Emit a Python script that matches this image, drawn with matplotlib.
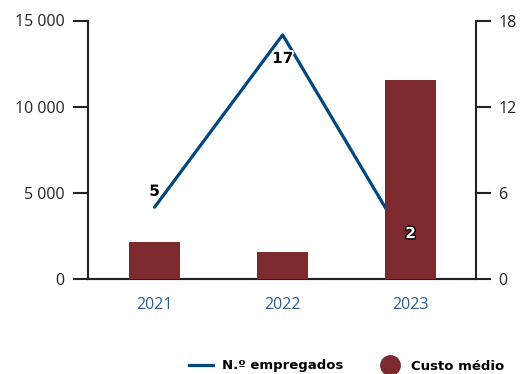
import matplotlib
matplotlib.use('Agg')
import matplotlib.pyplot as plt
import matplotlib.patheffects as pe
from matplotlib.lines import Line2D
from matplotlib.ticker import FuncFormatter

# Data
years = ['2021', '2022', '2023']
custo_medio = [2150, 1570, 11550]
n_empregados = [5, 17, 2]

left_ticks = [0, 5000, 10000, 15000]
right_ticks = [0, 6, 12, 18]

bar_color = '#7d2a2f'
line_color = '#00477f'
axis_color = '#222222'
year_color = '#2a5d94'

plt.rcParams['font.family'] = ['Open Sans', 'DejaVu Sans']

fig = plt.figure(figsize=(5.22, 3.74), dpi=100)
ax = fig.add_axes([88 / 522, 1 - 279 / 374, 388 / 522, 258.5 / 374])
ax2 = ax.twinx()

# bars sit above the line, so the left axes is brought forward
ax.set_zorder(ax2.get_zorder() + 1)
ax.patch.set_visible(False)

x = list(range(len(years)))
ax.bar(x, custo_medio, width=0.4, color=bar_color, zorder=3)
ax2.plot(x, n_empregados, color=line_color, linewidth=2.3, solid_capstyle='round')

ax.set_xlim(-0.52, 2.51)
ax.set_ylim(0, 15000)
ax2.set_ylim(0, 18)

ax.set_yticks(left_ticks)
ax.yaxis.set_major_formatter(FuncFormatter(lambda v, p: f'{int(v):,}'.replace(',', ' ')))
ax2.set_yticks(right_ticks)

ax.set_xticks(x)
ax.set_xticklabels(years, color=year_color, fontsize=11.5)
ax.tick_params(axis='x', length=0, pad=13)
ax.tick_params(axis='y', length=11, width=1.5, color=axis_color, labelsize=11.5,
               labelcolor='#222222', pad=6)
ax2.tick_params(axis='y', length=11, width=1.5, color=axis_color, labelsize=11.5,
                labelcolor='#222222', pad=5)

for a in (ax, ax2):
    a.spines['top'].set_visible(False)
    for s in ('left', 'right', 'bottom'):
        a.spines[s].set_color(axis_color)
        a.spines[s].set_linewidth(1.5)
ax.spines['right'].set_visible(False)
ax2.spines['left'].set_visible(False)

# value labels for the line, drawn on the front axes
offsets = [11.5, -17, 12]
for i, (v, dy) in enumerate(zip(n_empregados, offsets)):
    if i == 2:
        effects = [pe.Stroke(linewidth=2, foreground='black'), pe.Normal()]
        col = 'white'
    else:
        effects = [pe.Stroke(linewidth=2.5, foreground='white'), pe.Normal()]
        col = 'black'
    ax.annotate(str(v), xy=(i, v), xycoords=ax2.transData,
                xytext=(0, dy), textcoords='offset points',
                ha='center', va='center', fontsize=11, fontweight='bold',
                color=col, path_effects=effects, zorder=5,
                family=['DejaVu Sans'])

handles = [
    Line2D([], [], color=line_color, linewidth=2.3),
    Line2D([], [], linestyle='none', marker='o', markersize=14,
           markerfacecolor=bar_color, markeredgecolor=bar_color),
]
fig.legend(handles, ['N.º empregados', 'Custo médio'], ncol=2, frameon=False,
           loc='center right', bbox_to_anchor=(516 / 522, 1 - 366 / 374),
           prop={'family': 'DejaVu Sans', 'weight': 'bold', 'size': 9.5},
           handlelength=1.8, handletextpad=0.7, columnspacing=2.6)

fig.savefig('out.png', dpi=100)
